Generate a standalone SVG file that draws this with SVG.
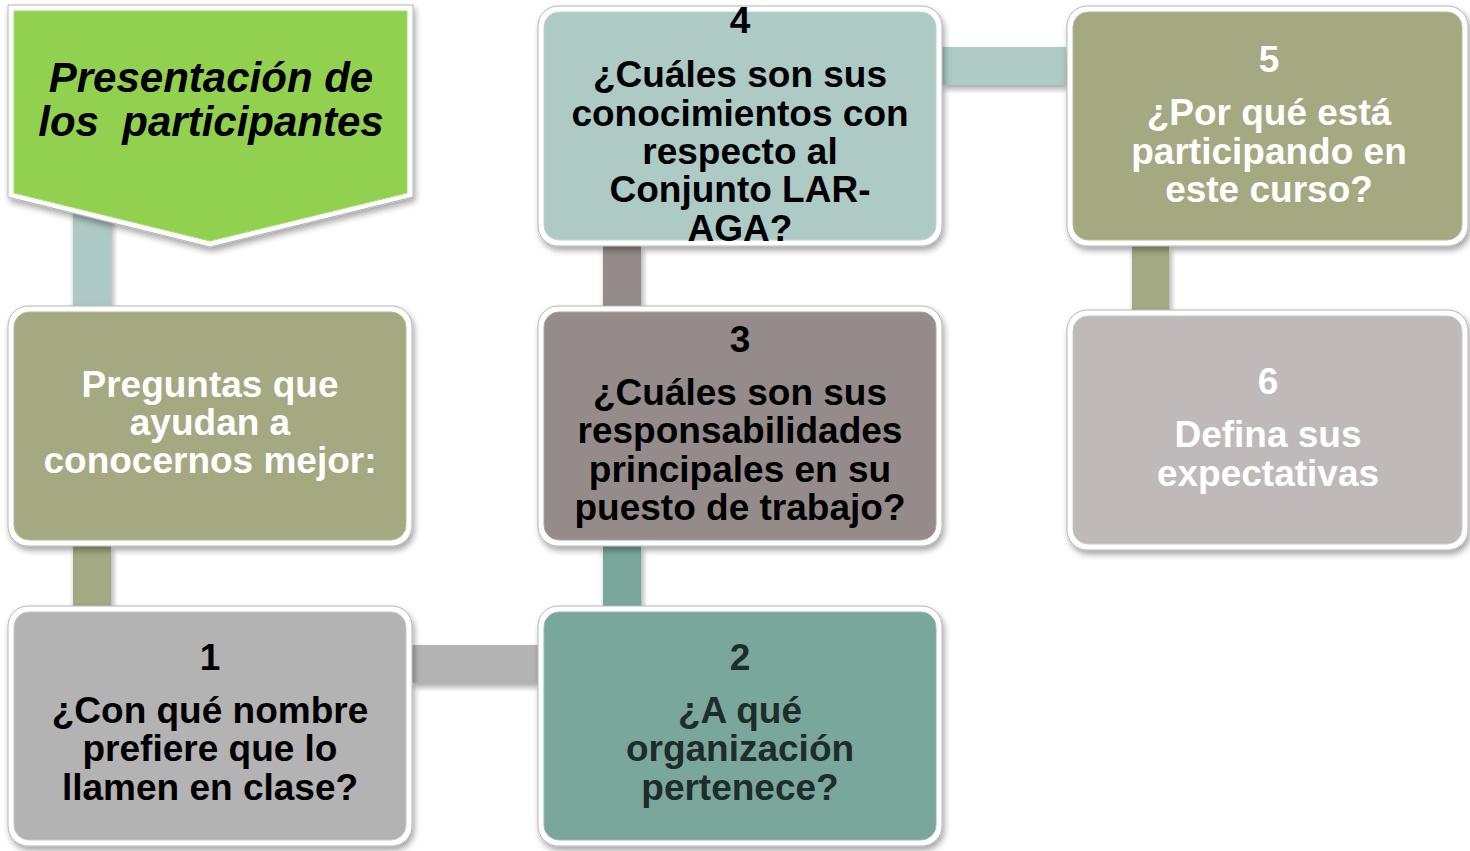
<svg xmlns="http://www.w3.org/2000/svg" width="1470" height="851" viewBox="0 0 1470 851">
<defs>
<filter id="sh" x="-10%" y="-10%" width="125%" height="130%">
<feDropShadow dx="2" dy="4" stdDeviation="3" flood-color="#000" flood-opacity="0.35"/>
</filter>
<style>
.frame{fill:#fff;stroke:#b5b5b5;stroke-width:1;filter:url(#sh)}
.t{font-family:"Liberation Sans",Arial,sans-serif;font-weight:bold;font-size:37px;text-anchor:middle}
.title{font-size:42px;font-style:italic}
.w{fill:#fff}
.k{fill:#000}
.d{fill:#1e2d29}
.bar{filter:url(#sh)}
</style>
</defs>
<rect width="1470" height="851" fill="#fff"/>
<g id="connectors">
<rect class="bar" x="73" y="200" width="38" height="106" fill="#adc9c5"/>
<rect class="bar" x="73" y="546" width="38" height="60" fill="#a3a982"/>
<rect class="bar" x="412" y="645" width="126" height="38" fill="#b3b3b3"/>
<rect class="bar" x="603" y="546" width="38" height="60" fill="#7aa79c"/>
<rect class="bar" x="603" y="246" width="38" height="60" fill="#958b8a"/>
<rect class="bar" x="942" y="47" width="124" height="38" fill="#aecac5"/>
<rect class="bar" x="1132" y="246" width="37" height="64" fill="#a3a982"/>
</g>
<g id="title">
<polygon class="frame" points="8,5 413,5 413,197 210,247 8,197"/>
<polygon points="14,11 407,11 407,193 210,241 14,193" fill="#92d050" stroke="#a8dc72" stroke-width="1"/>
<text class="t k title" xml:space="preserve"><tspan x="211" y="92">Presentación de</tspan><tspan x="211" y="136">los  participantes</tspan></text>
</g>
<g id="intro">
<rect class="frame" x="8" y="306" width="404" height="240" rx="20"/>
<rect x="14" y="312" width="392" height="228" rx="15" fill="#a4a981" stroke="#b8bc9a"/>
<text class="t w"><tspan x="210" y="397">Preguntas que</tspan><tspan x="210" y="435">ayudan a</tspan><tspan x="210" y="473">conocernos mejor:</tspan></text>
</g>
<g id="q1">
<rect class="frame" x="8" y="606" width="404" height="240" rx="20"/>
<rect x="14" y="612" width="392" height="228" rx="15" fill="#b3b3b3" stroke="#c6c6c6"/>
<text class="t k"><tspan x="210" y="670">1</tspan><tspan x="210" y="723">¿Con qué nombre</tspan><tspan x="210" y="761">prefiere que lo</tspan><tspan x="210" y="800">llamen en clase?</tspan></text>
</g>
<g id="q2">
<rect class="frame" x="538" y="606" width="404" height="240" rx="20"/>
<rect x="544" y="612" width="392" height="228" rx="15" fill="#7aa79c" stroke="#93b9b0"/>
<text class="t d"><tspan x="740" y="670">2</tspan><tspan x="740" y="723">¿A qué</tspan><tspan x="740" y="761">organización</tspan><tspan x="740" y="800">pertenece?</tspan></text>
</g>
<g id="q3">
<rect class="frame" x="538" y="306" width="404" height="240" rx="20"/>
<rect x="544" y="312" width="392" height="228" rx="15" fill="#958b8a" stroke="#aaa2a1"/>
<text class="t k"><tspan x="740" y="352">3</tspan><tspan x="740" y="405">¿Cuáles son sus</tspan><tspan x="740" y="443">responsabilidades</tspan><tspan x="740" y="482">principales en su</tspan><tspan x="740" y="520">puesto de trabajo?</tspan></text>
</g>
<g id="q4">
<rect class="frame" x="538" y="6" width="404" height="240" rx="20"/>
<rect x="544" y="12" width="392" height="228" rx="15" fill="#aecac5" stroke="#c1d6d2"/>
<text class="t k"><tspan x="740" y="33">4</tspan><tspan x="740" y="87">¿Cuáles son sus</tspan><tspan x="740" y="126">conocimientos con</tspan><tspan x="740" y="164">respecto al</tspan><tspan x="740" y="202">Conjunto LAR-</tspan><tspan x="740" y="241">AGA?</tspan></text>
</g>
<g id="q5">
<rect class="frame" x="1067" y="6" width="401" height="240" rx="20"/>
<rect x="1073" y="12" width="389" height="228" rx="15" fill="#a4a981" stroke="#b8bc9a"/>
<text class="t w"><tspan x="1269" y="72">5</tspan><tspan x="1269" y="125">¿Por qué está</tspan><tspan x="1269" y="164">participando en</tspan><tspan x="1269" y="202">este curso?</tspan></text>
</g>
<g id="q6">
<rect class="frame" x="1067" y="310" width="401" height="240" rx="20"/>
<rect x="1073" y="316" width="389" height="228" rx="15" fill="#bfb9b9" stroke="#cfcaca"/>
<text class="t w"><tspan x="1268" y="394">6</tspan><tspan x="1268" y="447">Defina sus</tspan><tspan x="1268" y="486">expectativas</tspan></text>
</g>
</svg>
